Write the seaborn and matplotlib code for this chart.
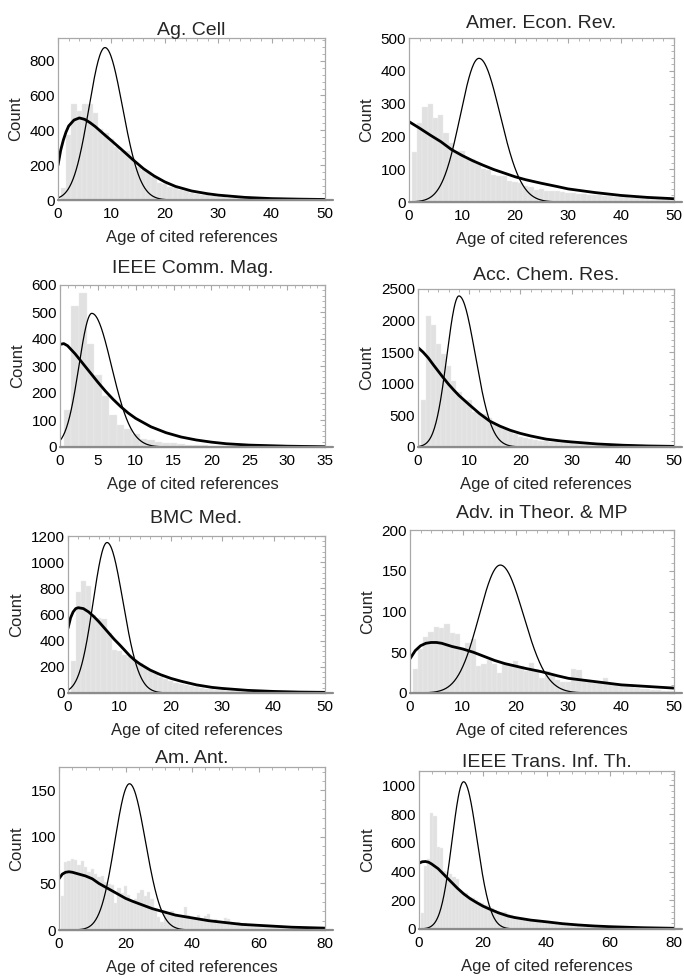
import numpy as np
import pandas as pd
import seaborn as sns
import matplotlib
matplotlib.use("Agg")
import matplotlib.pyplot as plt
from matplotlib.ticker import MultipleLocator, AutoMinorLocator

sns.set_theme(style="white")
plt.rcParams['font.family'] = ['Liberation Sans', 'DejaVu Sans']

titles = ['Ag. Cell', 'Amer. Econ. Rev.', 'IEEE Comm. Mag.', 'Acc. Chem. Res.',
          'BMC Med.', 'Adv. in Theor. & MP', 'Am. Ant.', 'IEEE Trans. Inf. Th.']

# histogram counts, ages 1, 2, 3, ...
agcell_counts = [67, 373, 551, 513, 551, 551, 498, 406, 385, 350,
                 306, 283, 283, 239, 188, 170, 160, 130, 100, 90,
                 76, 68, 58, 50, 42, 36, 30, 26, 22, 18,
                 15, 13, 11, 9, 8, 7, 6, 5, 4, 4,
                 3, 3, 2, 2, 2, 1, 1, 1, 1, 1]
aer_counts = [151, 240, 290, 298, 255, 264, 210, 180, 157, 157,
              131, 131, 120, 100, 97, 83, 80, 78, 63, 60,
              58, 48, 45, 38, 40, 35, 33, 33, 30, 28,
              27, 25, 24, 22, 20, 20, 18, 17, 16, 15,
              14, 13, 12, 12, 11, 10, 10, 9, 9, 8]
comm_counts = [138, 522, 569, 380, 268, 190, 118, 81, 68, 48,
               30, 27, 20, 16, 13, 10, 8, 7, 6, 5,
               4, 4, 3, 8, 3, 2, 2, 2, 1, 1,
               1, 1, 1, 1, 1]
acc_counts = [747, 2079, 1932, 1626, 1468, 1274, 1047, 863, 750, 747,
              560, 537, 520, 458, 360, 326, 290, 247, 200, 153,
              150, 120, 116, 100, 90, 85, 80, 70, 63, 58,
              52, 47, 42, 38, 35, 30, 27, 24, 20, 18,
              15, 13, 11, 9, 8, 7, 6, 5, 4, 4]
bmc_counts = [241, 774, 858, 817, 596, 570, 563, 462, 330, 320,
              290, 275, 260, 230, 195, 170, 150, 125, 110, 95,
              80, 65, 60, 50, 45, 38, 32, 28, 24, 20,
              18, 15, 13, 11, 10, 9, 8, 7, 6, 5,
              5, 4, 4, 3, 3, 3, 2, 2, 2, 2]
adv_counts = [29, 54, 69, 75, 81, 80, 85, 74, 73, 55,
              61, 66, 33, 35, 41, 35, 25, 35, 33, 39,
              33, 27, 37, 29, 18, 27, 22, 16, 14, 13,
              29, 28, 16, 14, 12, 12, 18, 12, 11, 8,
              8, 7, 6, 5, 5, 4, 4, 3, 3, 3]
amant_counts = [37, 73, 74, 76, 75, 70, 74, 68, 62, 66,
                60, 57, 58, 52, 49, 48, 29, 45, 40, 47,
                38, 30, 33, 40, 43, 36, 41, 33, 22, 14,
                9, 18, 16, 20, 17, 15, 14, 25, 16, 14,
                13, 16, 12, 15, 17, 11, 12, 10, 9, 13,
                12, 8, 7, 9, 6, 7, 5, 6, 5, 4,
                5, 4, 4, 3, 4, 3, 3, 2, 3, 2,
                2, 2, 2, 1, 2, 1, 1, 1, 1, 1]
ieee_counts = [109, 440, 490, 807, 784, 574, 563, 405, 400, 380,
               365, 349, 270, 260, 250, 225, 214, 205, 190, 180,
               167, 160, 144, 135, 125, 121, 115, 105, 98, 92,
               85, 79, 74, 68, 62, 58, 55, 50, 47, 45,
               42, 40, 37, 35, 33, 31, 29, 27, 25, 23,
               22, 20, 19, 18, 17, 15, 14, 13, 12, 11,
               10, 10, 9, 9, 8, 8, 7, 7, 6, 6,
               5, 5, 5, 4, 4, 4, 3, 3, 3, 3]

# thick fitted curve
agcell_fit_x = [0, 0.5, 1, 1.5, 2, 3, 4, 5, 6, 7, 8, 9, 10, 12, 14, 16, 18, 20, 22, 25, 28, 30, 35, 40, 45, 50]
agcell_fit_y = [200, 285, 344, 390, 425, 459, 471, 463, 444, 421, 394, 367, 341, 287, 232, 180, 138, 104, 78, 52, 36, 28, 15, 8, 5, 3]
aer_fit_x = [0, 2, 4, 6, 8, 10, 12, 14, 16, 18, 20, 22, 25, 28, 30, 35, 40, 45, 50]
aer_fit_y = [245, 225, 204, 184, 160, 142, 126, 112, 99, 88, 77, 68, 57, 47, 40, 29, 20, 14, 10]
comm_fit_x = [0, 0.5, 1, 2, 3, 4, 5, 6, 7, 8, 9, 10, 12, 14, 16, 18, 20, 22, 25, 30, 35]
comm_fit_y = [380, 383, 375, 345, 310, 275, 240, 207, 177, 150, 126, 106, 75, 53, 37, 26, 18, 12, 7, 3, 1]
acc_fit_x = [0, 1, 2, 3, 4, 5, 6, 7, 8, 10, 12, 14, 16, 18, 20, 22, 25, 28, 30, 35, 40, 45, 50]
acc_fit_y = [1574, 1500, 1410, 1300, 1195, 1090, 990, 900, 815, 670, 530, 410, 330, 265, 215, 175, 125, 95, 80, 48, 28, 16, 10]
bmc_fit_x = [0, 0.5, 1, 1.5, 2, 3, 4, 5, 6, 7, 8, 9, 10, 11, 12, 13, 14, 16, 18, 20, 22, 25, 28, 30, 35, 40, 45, 50]
bmc_fit_y = [495, 575, 620, 645, 652, 645, 620, 585, 545, 500, 455, 410, 370, 328, 285, 250, 222, 175, 140, 112, 90, 62, 43, 35, 20, 12, 7, 5]
adv_fit_x = [0, 1, 2, 3, 4, 5, 6, 7, 8, 10, 12, 14, 16, 18, 20, 22, 25, 28, 30, 35, 40, 45, 50]
adv_fit_y = [42, 52, 58, 61, 62, 62, 61, 59, 57, 54, 50, 45, 40, 36, 33, 30, 26, 21, 18, 14, 10, 8, 6]
amant_fit_x = [0, 1, 2, 3, 4, 6, 8, 10, 12, 14, 16, 18, 20, 22, 25, 28, 30, 35, 40, 45, 50, 55, 60, 70, 80]
amant_fit_y = [55, 60, 62, 62.5, 62, 60, 58, 55, 50, 46, 42, 38, 34, 31, 27, 23, 21, 16, 13, 10, 8, 6, 5, 3, 2]
ieee_fit_x = [0, 1, 2, 3, 4, 6, 8, 10, 12, 14, 16, 18, 20, 22, 25, 28, 30, 35, 40, 45, 50, 55, 60, 70, 80]
ieee_fit_y = [458, 468, 470, 465, 452, 420, 375, 330, 285, 245, 212, 185, 160, 140, 112, 90, 80, 62, 50, 37, 28, 21, 16, 9, 5]

# thin peaked curve: height, position, left / right width
peak_height = [875, 438, 495, 2390, 1150, 157, 157, 1025]
peak_age = [8.8, 13.2, 4.2, 8.0, 7.6, 17.1, 21.2, 14.0]
width_left = [3.0, 3.5, 1.7, 2.35, 2.7, 4.0, 4.4, 3.6]
width_right = [3.3, 4.0, 2.6, 3.2, 3.1, 4.4, 4.8, 4.2]

x_max = [50, 50, 35, 50, 50, 50, 80, 80]
x_step = [10, 10, 5, 10, 10, 10, 20, 20]
y_max = [930, 500, 600, 2500, 1200, 200, 175, 1100]
y_step = [200, 100, 100, 500, 200, 50, 50, 200]

counts = [agcell_counts, aer_counts, comm_counts, acc_counts,
          bmc_counts, adv_counts, amant_counts, ieee_counts]
fits = [(agcell_fit_x, agcell_fit_y), (aer_fit_x, aer_fit_y), (comm_fit_x, comm_fit_y),
        (acc_fit_x, acc_fit_y), (bmc_fit_x, bmc_fit_y), (adv_fit_x, adv_fit_y),
        (amant_fit_x, amant_fit_y), (ieee_fit_x, ieee_fit_y)]

# axes boxes in pixels: left, top, right, bottom; title baseline in pixels
boxes = [(58, 38, 325, 200), (409, 38, 674, 202),
         (60, 285, 325, 447), (418, 289, 674, 447),
         (68, 536, 325, 693), (410, 530, 674, 693),
         (59, 767, 325, 930), (419, 771, 674, 929)]
title_y = [35, 28, 273, 280, 523, 518, 763, 767]

W, H = 684, 977
fig = plt.figure(figsize=(W / 100, H / 100), dpi=100)
frame_col = '#a8a8a8'

for i in range(8):
    l, t, r, b = boxes[i]
    ax = fig.add_axes([l / W, 1 - b / H, (r - l) / W, (b - t) / H])
    ages = np.arange(1, len(counts[i]) + 1)
    df = pd.DataFrame({'age': ages, 'n': counts[i]})
    sns.histplot(data=df, x='age', weights='n', discrete=True, ax=ax,
                 color='#e1e1e1', alpha=1, edgecolor='#efefef', linewidth=0.3)

    xs = np.linspace(0, x_max[i], 500)
    sig = np.where(xs < peak_age[i], width_left[i], width_right[i])
    ys = peak_height[i] * np.exp(-(xs - peak_age[i]) ** 2 / (2 * sig ** 2))
    sns.lineplot(x=xs, y=ys, ax=ax, color='black', linewidth=0.9)
    sns.lineplot(x=fits[i][0], y=fits[i][1], ax=ax, color='black', linewidth=2.0)

    ax.axhline(0, xmin=0, xmax=1.03, color='#8c8c8c', linewidth=1.6, clip_on=False, zorder=5)
    ax.set_xlim(0, x_max[i])
    ax.set_ylim(0, y_max[i])
    ax.xaxis.set_major_locator(MultipleLocator(x_step[i]))
    ax.yaxis.set_major_locator(MultipleLocator(y_step[i]))
    ax.xaxis.set_minor_locator(AutoMinorLocator(5))
    ax.yaxis.set_minor_locator(AutoMinorLocator(5))
    ax.tick_params(which='both', direction='in', top=True, right=True,
                   color=frame_col, labelsize=11, labelcolor='black')
    ax.tick_params(which='major', length=3.5, width=0.8)
    ax.tick_params(which='minor', length=2, width=0.6)
    ax.tick_params(axis='x', pad=5)
    ax.tick_params(axis='y', pad=2)
    for s in ax.spines.values():
        s.set_color(frame_col)
        s.set_linewidth(0.9)
    ax.set_xlabel('Age of cited references', fontsize=12, labelpad=6.5)
    ax.set_ylabel('Count', fontsize=12, labelpad=5)
    fig.text((l + r) / 2 / W, 1 - title_y[i] / H, titles[i], fontsize=14,
             ha='center', va='baseline')

fig.savefig('out.png', dpi=100)
